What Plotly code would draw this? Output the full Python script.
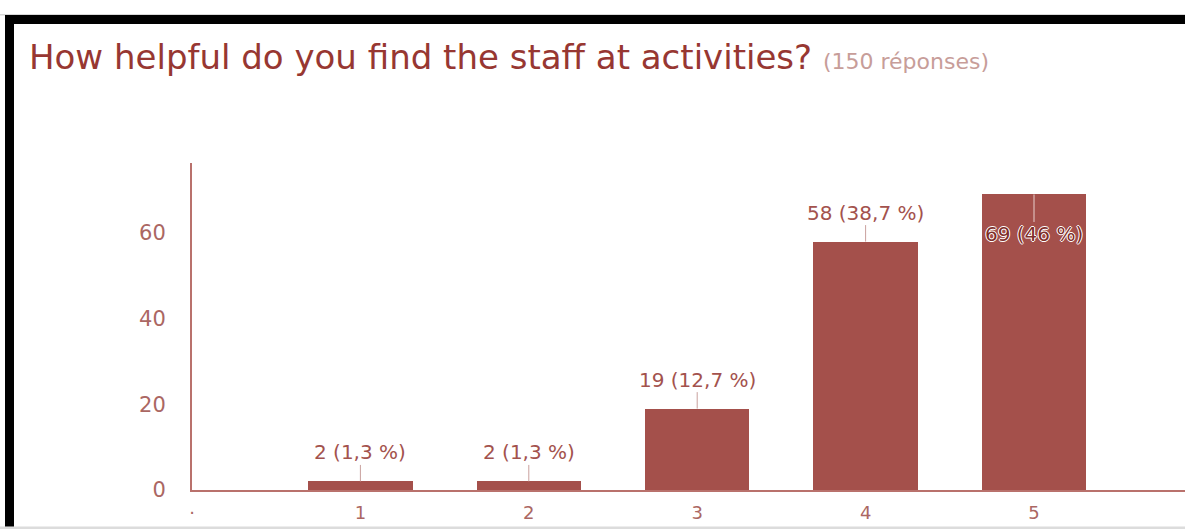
import plotly.graph_objects as go

# Survey answers (rating scale) and number of responses for each rating
ratings = [1, 2, 3, 4, 5]
counts = [2, 2, 19, 58, 69]
total_responses = 150

title_text = "How helpful do you find the staff at activities?"
responses_text = f"({total_responses} réponses)"

x_tick_vals = [0, 1, 2, 3, 4, 5]
x_tick_text = ["·", "1", "2", "3", "4", "5"]
y_tick_vals = [0, 20, 40, 60]

FONT = "DejaVu Sans, Roboto, Arial, sans-serif"
BAR = "#a4504b"
TITLE = "#973732"
SUBTLE = "#c79d99"
TICK = "#ab6763"
AXIS = "#b9716c"
LEADER = "#c9a09d"

W, H = 1185, 529
L, R, T, B = 192, 0, 163, 39

# helpers converting page pixels to paper coordinates
pw = W - L - R
ph = H - T - B


def px(xp):
    return (xp - L) / pw


def py(yp):
    return (H - B - yp) / ph


def pct_label(n):
    p = f"{round(100 * n / total_responses, 1):.1f}".replace(".", ",")
    if p.endswith(",0"):
        p = p[:-2]
    return f"{n} ({p} %)"


fig = go.Figure(
    go.Bar(
        x=ratings,
        y=counts,
        width=0.62,
        marker=dict(color=BAR, line=dict(width=0)),
        hoverinfo="skip",
    )
)

# value labels with short leader lines; the tallest bar gets its label inside
y_max = 76.35
annotations = []
for r, n in zip(ratings, counts):
    inside = n > 0.85 * y_max
    annotations.append(
        dict(
            x=r,
            y=n,
            xref="x",
            yref="y",
            text=pct_label(n),
            showarrow=True,
            arrowhead=0,
            arrowwidth=1,
            arrowcolor="#e8cfcd" if inside else LEADER,
            ax=0,
            ay=40 if inside else -29,
            borderpad=0,
            font=dict(
                family=FONT,
                size=20,
                color="#7e2e2a" if inside else "#a3524d",
                shadow=(
                    "1px 0 0 #fff, -1px 0 0 #fff, 0 1px 0 #fff, 0 -1px 0 #fff"
                    if inside
                    else "none"
                ),
            ),
        )
    )

# title line with the response count
annotations.append(
    dict(
        x=px(27),
        y=py(57),
        xref="paper",
        yref="paper",
        xanchor="left",
        yanchor="middle",
        showarrow=False,
        text=f"{title_text}&nbsp;<span style='font-size:22px;color:{SUBTLE}'>{responses_text}</span>",
        font=dict(family=FONT, size=34, color=TITLE),
    )
)

shapes = [
    # thin grey edges
    dict(type="rect", xref="paper", yref="paper", x0=px(0), x1=px(W), y0=py(14), y1=py(15.5),
         fillcolor="#d8d8d8", line=dict(width=0), layer="above"),
    dict(type="rect", xref="paper", yref="paper", x0=px(0), x1=px(W), y0=py(529), y1=py(526.5),
         fillcolor="#dcdcdc", line=dict(width=0), layer="above"),
    # black frame
    dict(type="rect", xref="paper", yref="paper", x0=px(5), x1=px(W), y0=py(24), y1=py(15),
         fillcolor="#000000", line=dict(width=0), layer="above"),
    dict(type="rect", xref="paper", yref="paper", x0=px(5), x1=px(14), y0=py(526.5), y1=py(15),
         fillcolor="#000000", line=dict(width=0), layer="above"),
]

fig.update_layout(
    width=W,
    height=H,
    margin=dict(l=L, r=R, t=T, b=B, pad=0),
    paper_bgcolor="white",
    plot_bgcolor="white",
    showlegend=False,
    bargap=0,
    annotations=annotations,
    shapes=shapes,
    xaxis=dict(
        range=[0, pw / 168.4],
        tickvals=x_tick_vals,
        ticktext=x_tick_text,
        showgrid=False,
        zeroline=False,
        showline=True,
        linecolor=AXIS,
        linewidth=2,
        ticks="",
        ticklabelstandoff=5,
        tickfont=dict(family=FONT, size=18, color=TICK),
        fixedrange=True,
    ),
    yaxis=dict(
        range=[0, y_max],
        tickvals=y_tick_vals,
        showgrid=False,
        zeroline=False,
        showline=True,
        linecolor=AXIS,
        linewidth=2,
        ticks="",
        ticklabelstandoff=20,
        tickfont=dict(family=FONT, size=21, color=TICK),
        fixedrange=True,
    ),
)

fig.write_html("out.html", config={"displayModeBar": False})
